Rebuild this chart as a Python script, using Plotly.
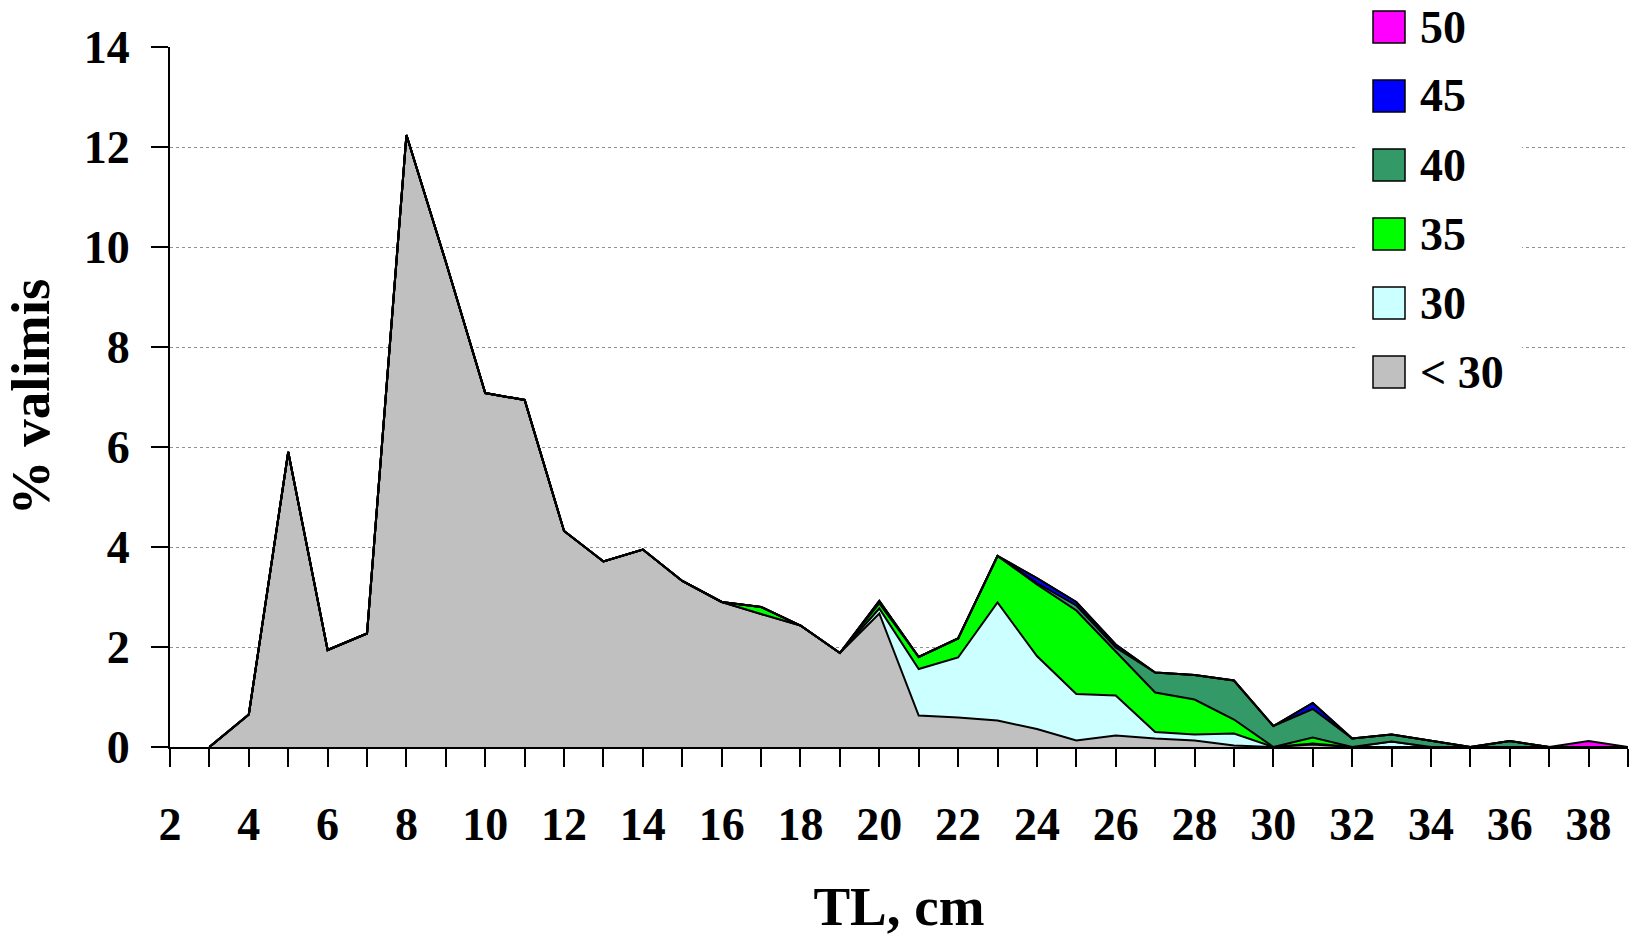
import plotly.graph_objects as go

# TL classes (cm) and share of catch (%) by age/size group
tl_cm = list(range(3, 40))

#              3     4     5     6     7     8      9     10    11    12    13    14    15    16    17    18    19    20    21    22    23    24    25    26    27    28    29    30  31    32  33    34  35  36    37  38    39
pct_lt30 = [0.00, 0.65, 5.90, 1.94, 2.27, 12.24, 9.70, 7.08, 6.94, 4.32, 3.71, 3.95, 3.32, 2.90, 2.66, 2.43, 1.88, 2.67, 0.63, 0.59, 0.53, 0.36, 0.13, 0.23, 0.17, 0.13, 0.03, 0, 0.05, 0, 0.00, 0.00, 0, 0.00, 0, 0.00, 0]
pct_30 = [0.00, 0.00, 0.00, 0.00, 0.00, 0.00, 0.00, 0.00, 0.00, 0.00, 0.00, 0.00, 0.00, 0.00, 0.00, 0.00, 0.00, 0.10, 0.93, 1.20, 2.36, 1.46, 0.93, 0.80, 0.13, 0.12, 0.24, 0, 0.02, 0, 0.11, 0.00, 0, 0.00, 0, 0.00, 0]
pct_35 = [0.00, 0.00, 0.00, 0.00, 0.00, 0.00, 0.00, 0.00, 0.00, 0.00, 0.00, 0.00, 0.00, 0.00, 0.14, 0.00, 0.00, 0.10, 0.24, 0.38, 0.93, 1.43, 1.67, 0.87, 0.79, 0.70, 0.28, 0, 0.12, 0, 0.00, 0.00, 0, 0.00, 0, 0.00, 0]
pct_40 = [0.00, 0.00, 0.00, 0.00, 0.00, 0.00, 0.00, 0.00, 0.00, 0.00, 0.00, 0.00, 0.00, 0.00, 0.00, 0.00, 0.00, 0.05, 0.00, 0.00, 0.00, 0.03, 0.10, 0.09, 0.40, 0.49, 0.78, 0.42, 0.57, 0.17, 0.14, 0.12, 0, 0.12, 0, 0.00, 0]
pct_45 = [0.00, 0.00, 0.00, 0.00, 0.00, 0.00, 0.00, 0.00, 0.00, 0.00, 0.00, 0.00, 0.00, 0.00, 0.00, 0.00, 0.00, 0.00, 0.00, 0.00, 0.00, 0.10, 0.07, 0.06, 0.00, 0.00, 0.00, 0, 0.12, 0, 0.00, 0.00, 0, 0.00, 0, 0.00, 0]
pct_50 = [0.00, 0.00, 0.00, 0.00, 0.00, 0.00, 0.00, 0.00, 0.00, 0.00, 0.00, 0.00, 0.00, 0.00, 0.00, 0.00, 0.00, 0.00, 0.00, 0.00, 0.00, 0.00, 0.00, 0.00, 0.00, 0.00, 0.00, 0, 0.00, 0, 0.00, 0.00, 0, 0.00, 0, 0.12, 0]

series_names = ["< 30", "30", "35", "40", "45", "50"]
series_values = [pct_lt30, pct_30, pct_35, pct_40, pct_45, pct_50]
series_colors = ["#C0C0C0", "#CCFFFF", "#00FF00", "#339966", "#0000FF", "#FF00FF"]

x_ticks = list(range(2, 40))
x_labels = [str(v) if v % 2 == 0 else "" for v in x_ticks]

FONT = "Liberation Serif, Times New Roman, serif"
W, H = 1636, 937
ML, MR, MT, MB = 170, 8, 47, 190

fig = go.Figure()

# stacked areas, smallest group at the bottom
for name, vals, col in zip(series_names, series_values, series_colors):
    fig.add_trace(
        go.Scatter(x=tl_cm, y=vals, name=name, mode='lines', stackgroup='one',
                   fillcolor=col, line=dict(color='black', width=2),
                   showlegend=False)
    )

# hand-made legend (big square keys like the original)
pw, ph = W - ML - MR, H - MT - MB


def px_x(px):
    return (px - ML) / pw


def px_y(py):
    return (H - MB - py) / ph


shapes = [dict(type='rect', xref='paper', yref='paper', layer='above',
               x0=px_x(1358), x1=px_x(1522), y0=px_y(0), y1=px_y(405),
               fillcolor='white', line=dict(width=0))]
annotations = []
for i, (name, col) in enumerate(zip(series_names[::-1], series_colors[::-1])):
    cy = 27 + i * 69
    shapes.append(dict(type='rect', xref='paper', yref='paper', layer='above',
                       x0=px_x(1373), x1=px_x(1405), y0=px_y(cy + 16), y1=px_y(cy - 16),
                       fillcolor=col, line=dict(color='black', width=1.5)))
    annotations.append(dict(xref='paper', yref='paper', x=px_x(1418), y=px_y(cy),
                            xanchor='left', yanchor='middle', showarrow=False, text=name,
                            font=dict(family=FONT, size=46, color='black', weight='bold')))

fig.update_layout(
    width=W, height=H,
    margin=dict(l=ML, r=MR, t=MT, b=MB),
    plot_bgcolor='white', paper_bgcolor='white',
    font=dict(family=FONT, size=46, color='black', weight='bold'),
    shapes=shapes,
    annotations=annotations,
    showlegend=False
)

fig.update_xaxes(
    range=[2, 39], tickmode='array', tickvals=x_ticks, ticktext=x_labels,
    ticks='outside', ticklen=18, tickwidth=2, tickcolor='black',
    ticklabelstandoff=18, automargin=False,
    showline=True, linecolor='black', linewidth=2, showgrid=False, zeroline=False,
    title=dict(text="TL, cm", standoff=45)
)
fig.update_yaxes(
    range=[0, 14], dtick=2,
    ticks='outside', ticklen=17, tickwidth=2, tickcolor='black',
    ticklabelstandoff=12, automargin=False,
    showline=True, linecolor='black', linewidth=2,
    showgrid=True, gridcolor='#909090', gridwidth=1, griddash='dot', zeroline=False,
    title=dict(text="% valimis", standoff=27)
)

fig.write_html("out.html", config={'displayModeBar': False},
               post_script="document.body.style.margin='0';document.body.style.overflow='hidden';")
